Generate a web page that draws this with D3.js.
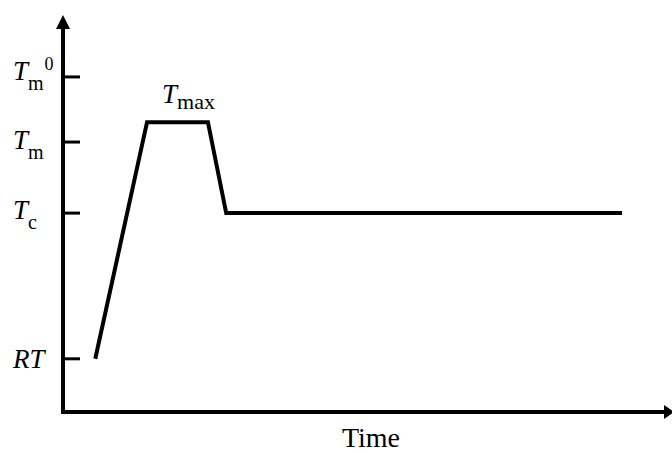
<!DOCTYPE html>
<html>
<head>
<meta charset="utf-8">
<script src="https://cdn.jsdelivr.net/npm/d3@7"></script>
<style>
  body { margin: 0; background: #fff; }
</style>
</head>
<body>
<div id="chart"></div>
<script>
// Temperature levels (arbitrary units)
const levelNames = ["RT", "Tc", "Tm", "Tm0"];
const levelValues = [13.4, 50.1, 68, 84.4];
const tMax = 73;

// Thermal programme
const times = [5.3, 13.8, 23.8, 26.8, 91.8];
const temps = [13.4, tMax, tMax, 50.1, 50.1];

const width = 672, height = 453;
const serif = "Liberation Serif";

const svg = d3.select("#chart")
  .append("svg")
  .attr("width", width)
  .attr("height", height);

// Scales
const x = d3.scaleLinear().domain([0, 100]).range([63, 672]);
const y = d3.scaleLinear().domain([0, 100]).range([412, 15]);

// Axes with arrow heads
svg.append("line")
  .attr("x1", x(0)).attr("x2", x(0))
  .attr("y1", y(0) + 2).attr("y2", y(100) + 12)
  .attr("stroke", "#000").attr("stroke-width", 4);
svg.append("path")
  .attr("d", `M${x(0) - 7},${y(100) + 14} L${x(0)},${y(100)} L${x(0) + 7},${y(100) + 14} Z`)
  .attr("fill", "#000");

svg.append("line")
  .attr("x1", x(0) - 2).attr("x2", x(100) - 6)
  .attr("y1", y(0)).attr("y2", y(0))
  .attr("stroke", "#000").attr("stroke-width", 4);
svg.append("path")
  .attr("d", `M${x(100) - 8},${y(0) - 7} L${x(100) + 2},${y(0)} L${x(100) - 8},${y(0) + 7} Z`)
  .attr("fill", "#000");

// Ticks
svg.selectAll(".tick")
  .data(levelValues)
  .enter().append("line")
  .attr("class", "tick")
  .attr("x1", x(0)).attr("x2", x(0) + 17)
  .attr("y1", d => y(d)).attr("y2", d => y(d))
  .attr("stroke", "#000").attr("stroke-width", 3);

// Tick labels
const labelDy = { RT: 9, Tc: 6, Tm: 7, Tm0: 3 };
levelNames.forEach((name, i) => {
  const t = svg.append("text")
    .attr("x", 13)
    .attr("y", y(levelValues[i]) + labelDy[name])
    .attr("font-family", serif)
    .attr("font-size", 27)
    .attr("font-style", "italic");
  if (name === "RT") {
    t.text("RT");
    return;
  }
  t.append("tspan").text("T");
  if (name === "Tc") {
    t.append("tspan").attr("font-style", "normal").attr("font-size", 20).attr("dy", 10).text("c");
  } else {
    t.append("tspan").attr("font-style", "normal").attr("font-size", 20).attr("dy", 10).text("m");
    if (name === "Tm0") {
      t.append("tspan").attr("font-style", "normal").attr("font-size", 18).attr("dx", 1).attr("dy", -20).text("0");
    }
  }
});

// Temperature profile
const pts = times.map((t, i) => [t, temps[i]]);
svg.append("path")
  .datum(pts)
  .attr("d", d3.line().x(d => x(d[0])).y(d => y(d[1])))
  .attr("fill", "none")
  .attr("stroke", "#000")
  .attr("stroke-width", 4)
  .attr("stroke-linejoin", "miter");

// Tmax annotation
const tm = svg.append("text")
  .attr("x", x(times[1]) + 15)
  .attr("y", y(tMax) - 19)
  .attr("font-family", serif)
  .attr("font-size", 27)
  .attr("font-style", "italic");
tm.append("tspan").text("T");
tm.append("tspan").attr("font-style", "normal").attr("font-size", 22).attr("dy", 6).text("max");

// Axis title
svg.append("text")
  .attr("x", 371)
  .attr("y", 447)
  .attr("text-anchor", "middle")
  .attr("font-family", serif)
  .attr("font-size", 28)
  .text("Time");
</script>
</body>
</html>
